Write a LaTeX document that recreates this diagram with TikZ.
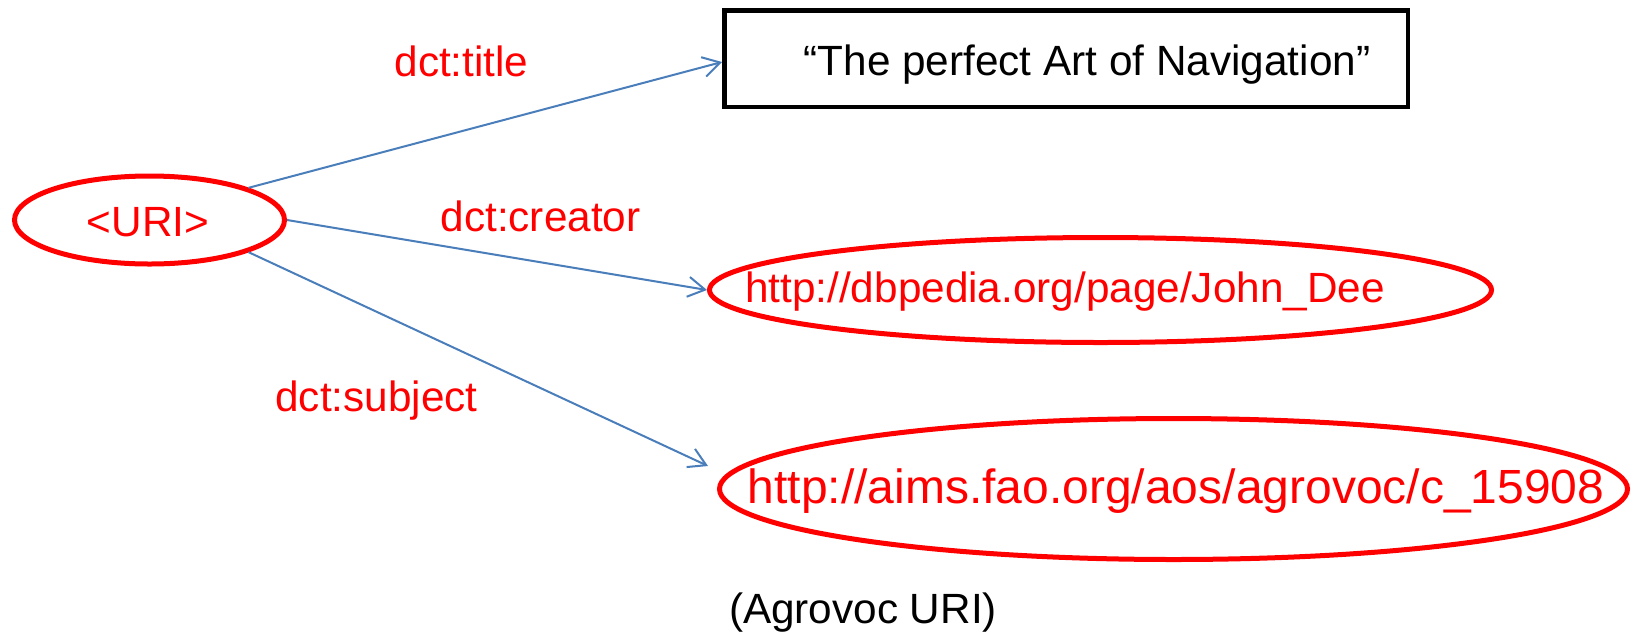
\documentclass[tikz,border=0pt]{standalone}
\usepackage{fontspec}
\setmainfont{Liberation Sans}
\usetikzlibrary{shapes.geometric,arrows.meta}
\definecolor{linkblue}{RGB}{74,126,187}
\definecolor{pred}{RGB}{255,0,0}
\begin{document}
\begin{tikzpicture}[x=1pt,y=-1pt,
  txt/.style={inner sep=0pt, anchor=base, font=\fontsize{42.3}{50}\selectfont},
  redtxt/.style={txt, text=pred},
  oval/.style={ellipse, draw=pred, line width=5pt, inner sep=0pt},
  rel/.style={draw=linkblue, line width=2pt, -{Straight Barb[length=17pt,width=20pt]}}
]
\useasboundingbox (0,0) rectangle (1641,633);
\node[oval, minimum width=270pt, minimum height=88pt] (uri) at (149.5,220) {};
\node[redtxt] (uritxt) at (148,236) {<URI>};
\node[draw=black, line width=4.5pt, minimum width=683.5pt, minimum height=96.5pt, inner sep=0pt] (title) at (1066,58.5) {};
\node[txt] (titletxt) at (1087,75) {“The perfect Art of Navigation”};
\node[oval, minimum width=782pt, minimum height=105pt] (dbp) at (1100.5,290) {};
\node[redtxt] (dbptxt) at (1065,302) {http://dbpedia.org/page/John\_Dee};
\node[oval, minimum width=908pt, minimum height=141pt] (agro) at (1173.5,489) {};
\node[redtxt, font=\fontsize{48}{56}\selectfont] (agrotxt) at (1176,503) {http://aims.fao.org/aos/agrovoc/c\_15908};
\node[txt] (agronote) at (863,623) {(Agrovoc URI)};
\node[redtxt] (ltitle) at (461.5,76) {dct:title};
\node[redtxt] (lcreator) at (540.5,231) {dct:creator};
\node[redtxt] (lsubject) at (376.5,411) {dct:subject};
\coordinate (subjend) at (708,466);
\draw[rel] (uri.18) -- ([yshift=-3.5pt]title.west);
\draw[rel] (uri.east) -- (dbp.west);
\draw[rel] (uri.-18) -- (subjend);
\end{tikzpicture}
\end{document}
